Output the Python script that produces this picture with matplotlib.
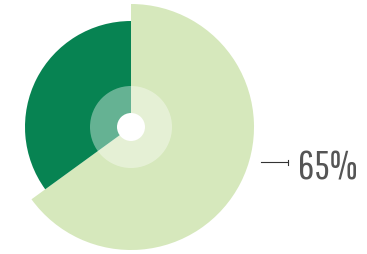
import matplotlib
matplotlib.use("Agg")
import matplotlib.pyplot as plt
from matplotlib.patches import Circle

categories = ["Share", "Rest"]
values = [65, 35]
label_text = "65%"

light = "#d6e8bc"
dark = "#078352"

fig = plt.figure(figsize=(3.67, 2.55), dpi=100)
ax = fig.add_axes([0, 0, 1, 1])
cx, cy = 131, 127
R_big, R_small = 123, 106

ax.pie(values, colors=[light, "none"], radius=R_big, center=(cx, cy),
       startangle=90, counterclock=False, frame=True,
       wedgeprops=dict(linewidth=0))
ax.pie(values, colors=["none", dark], radius=R_small, center=(cx, cy),
       startangle=90, counterclock=False, frame=True,
       wedgeprops=dict(linewidth=0))
ax.add_patch(Circle((cx, cy), 41, facecolor="white", alpha=0.38, linewidth=0))
ax.add_patch(Circle((cx, cy), 14, facecolor="white", linewidth=0))

ax.plot([261, 288], [92, 92], color="#333333", lw=0.8)
ax.plot([288, 288], [89.5, 94.5], color="#333333", lw=0.8)
ax.text(298, 76, label_text, fontsize=29, color="#555555",
        family=["Pathway Gothic One", "DejaVu Sans"], va="baseline", ha="left")

ax.set_xlim(0, 367)
ax.set_ylim(0, 255)
ax.set_aspect("equal")
ax.axis("off")
fig.savefig("out.png", dpi=100)
